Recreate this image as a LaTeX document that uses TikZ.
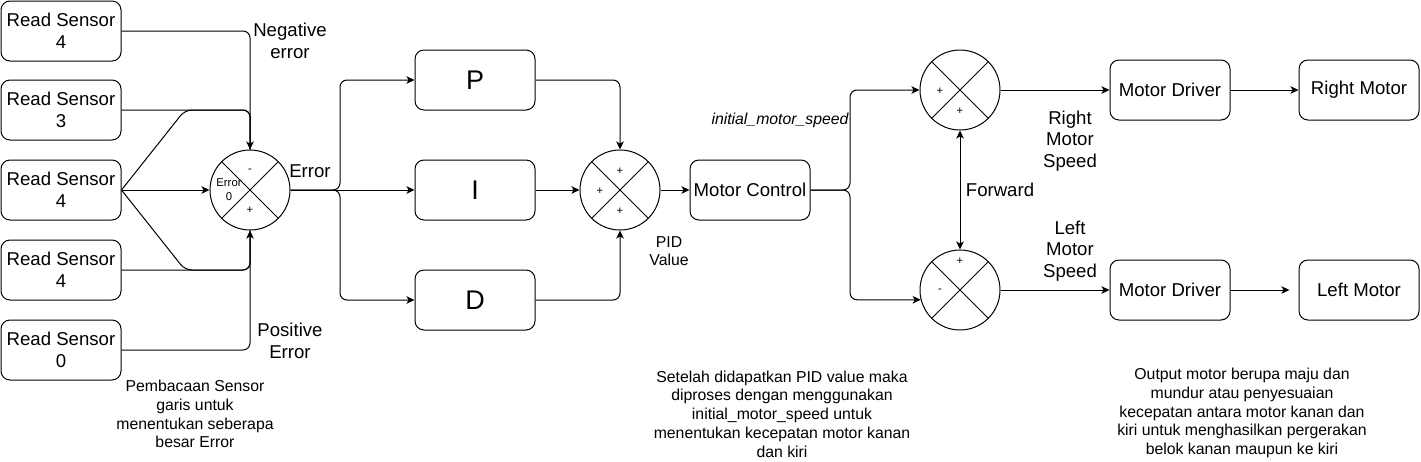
\documentclass[tikz,border=0pt]{standalone}
\usepackage{fontspec}
\setmainfont{Liberation Sans}
\usetikzlibrary{arrows.meta}
\newcommand{\mainf}{\fontsize{18.6}{21.6}\selectfont}
\newcommand{\smallf}{\fontsize{15.8}{18.7}\selectfont}
\newcommand{\tinyf}{\fontsize{11.3}{14}\selectfont}
\newcommand{\bigf}{\fontsize{27}{30}\selectfont}

\begin{document}
\begin{tikzpicture}[x=1pt, y=-1pt, line width=1pt, font=\mainf,
  >={Stealth[length=8pt, width=7.5pt, inset=2pt]},
  blk/.style={draw, rounded corners=9pt, minimum width=120pt, minimum height=60pt, align=center, inner sep=2pt},
  sumc/.style={draw, circle, minimum size=80pt, inner sep=0pt},
  sgn/.style={font=\tinyf, inner sep=0pt},
  lbl/.style={align=center, inner sep=0pt},
  note/.style={align=center, font=\smallf, inner sep=0pt},
  wire/.style={rounded corners=7pt},
  arr/.style={->, rounded corners=7pt}]
\useasboundingbox (0,0) rectangle (1421,461);
\newcommand{\summer}[3]{% name, x, y
  \node[sumc] (#1) at (#2,#3) {};
  \draw (#1.45) -- (#1.225) (#1.135) -- (#1.315);}
% line sensors and the error junction
\foreach \n/\y/\t in {rs1/31/4, rs2/110/3, rs3/190/4, rs4/270/4, rs5/350/0}
  \node[blk] (\n) at (61,\y) {Read Sensor\\\t};
\summer{err}{250}{190}
\node[sgn] (err-m) at (250,171) {-};
\node[sgn] (err-p) at (250,210) {+};
\node[sgn, align=center] (err-z) at (229,190) {Error\\0};
\draw[arr] (rs1.east) -| (err.north);
\draw[wire] (rs2.east) -| (err.north);
\draw[wire] (rs3.east) -- (185,110) -| (err.north);
\draw[arr] (rs3.east) -- (err.west);
\draw[wire] (rs3.east) -- (185,270) -| (err.south);
\draw[wire] (rs4.east) -| (err.south);
\draw[arr] (rs5.east) -| (err.south);
\node[lbl] (neg) at (290,41) {Negative\\error};
\node[lbl] (pos) at (290,341) {Positive\\Error};
\node[lbl] (errl) at (310,171) {Error};
\node[note] (note1) at (195,414) {Pembacaan Sensor\\garis untuk\\menentukan seberapa\\besar Error};
% P, I and D terms
\foreach \n/\y in {P/80, I/190, D/300}
  \node[blk, font=\bigf] (\n) at (475,\y) {\n};
\coordinate (fork1) at (340,190);
\draw[arr] (err.east) -- (fork1) |- (P.west);
\draw[arr] (err.east) -- (I.west);
\draw[arr] (err.east) -- (fork1) |- (D.west);
\summer{pid}{620}{190}
\node[sgn] (pid-t) at (620,171) {+};
\node[sgn] (pid-l) at (600,191) {+};
\node[sgn] (pid-b) at (620,211) {+};
\draw[arr] (P.east) -| (pid.north);
\draw[arr] (I.east) -- (pid.west);
\draw[arr] (D.east) -| (pid.south);
\node[lbl, font=\smallf] (pidv) at (669,251) {PID\\Value};
% motor control and the two motor sums
\node[blk] (mc) at (750,190) {Motor Control};
\draw[arr] (pid.east) -- (mc.west);
\summer{sr}{960}{90}
\summer{sl}{960}{290}
\node[sgn] (sr-l) at (940,91) {+};
\node[sgn] (sr-b) at (960,111) {+};
\node[sgn] (sl-t) at (960,261) {+};
\node[sgn] (sl-l) at (940,291) {-};
\coordinate (fork2) at (850,190);
\draw[arr] (mc.east) -- (fork2) |- (sr.west);
\draw[arr] (mc.east) -- (fork2) |- (sl.194.5);
\draw[<->] (sr.south) -- (sl.north);
\node[lbl, font=\smallf\itshape] (ims) at (780,120) {initial\_motor\_speed};
\node[lbl] (fwd) at (1000,190) {Forward};
% drivers and motors
\node[blk] (md1) at (1170,90) {Motor Driver};
\node[blk] (md2) at (1170,290) {Motor Driver};
\node[blk] (rm) at (1359,90) {Right Motor};
\node[blk] (lm) at (1359,290) {Left Motor};
\draw[arr] (sr.east) -- (md1.west);
\draw[arr] (md1.east) -- (rm.west);
\draw[arr] (sl.east) -- (md2.west);
\draw[arr, shorten >=9pt] (md2.east) -- (lm.west);
\node[lbl] (rms) at (1070,141) {Right\\Motor\\Speed};
\node[lbl] (lms) at (1070,251) {Left\\Motor\\Speed};
\node[note] (note2) at (782,414) {Setelah didapatkan PID value maka\\diproses dengan menggunakan\\initial\_motor\_speed untuk\\menentukan kecepatan motor kanan\\dan kiri};
\node[note] (note3) at (1242,413) {Output motor berupa maju dan\\mundur atau penyesuaian\\kecepatan antara motor kanan dan\\kiri untuk menghasilkan pergerakan\\belok kanan maupun ke kiri};
\end{tikzpicture}
\end{document}
